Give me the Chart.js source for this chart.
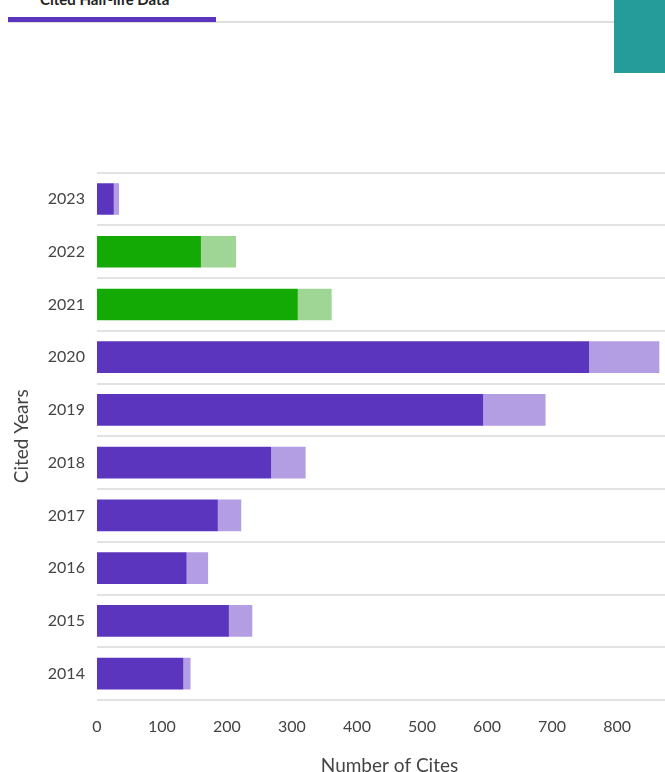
<!DOCTYPE html>
<html>
<head>
<meta charset="utf-8">
<script src="https://cdn.jsdelivr.net/npm/chart.js@4.4.0/dist/chart.umd.min.js"></script>
<style>
  html, body { margin: 0; padding: 0; background: #fff; overflow: hidden; width: 665px; height: 772px; }
  .tab-title { position: absolute; left: 40px; top: -10px; font: bold 15px Lato, sans-serif; color: #222; }
  .tab-line { position: absolute; left: 8px; top: 21px; width: 606px; height: 2px; background: #dedede; }
  .tab-active { position: absolute; left: 8px; top: 17px; width: 208px; height: 5px; background: #5c35be; }
  .teal { position: absolute; left: 614px; top: 0; width: 51px; height: 73px; background: #259b9a; }
  .chart-box { position: absolute; left: 0; top: 151px; width: 705px; height: 634px; }
</style>
</head>
<body>
<div class="tab-title">Cited Half-life Data</div>
<div class="tab-line"></div>
<div class="tab-active"></div>
<div class="teal"></div>
<div class="chart-box"><canvas id="citesChart"></canvas></div>
<script>
// Năm được trích dẫn (trục dọc)
const years = ['2023', '2022', '2021', '2020', '2019', '2018', '2017', '2016', '2015', '2014'];
// Phần đậm của mỗi thanh
const mainCites = [26, 160, 309, 757, 594, 268, 186, 138, 203, 133];
// Phần nhạt nối tiếp phía sau
const restCites = [8, 54, 52, 108, 96, 53, 36, 33, 36, 11];
// Các năm tô màu xanh lá
const greenYears = ['2022', '2021'];
const xTicks = [0, 100, 200, 300, 400, 500, 600, 700, 800, 900];

const mainColors = years.map(y => greenYears.includes(y) ? '#14aa06' : '#5c35be');
const restColors = years.map(y => greenYears.includes(y) ? '#9fd595' : '#b39de3');

const fontFamily = 'Lato, "Open Sans", sans-serif';

new Chart(document.getElementById('citesChart'), {
    type: 'bar',
    data: {
        labels: years,
        datasets: [{
            label: 'Cites',
            data: mainCites,
            backgroundColor: mainColors,
            barPercentage: 0.6,
            categoryPercentage: 1
        }, {
            label: 'Other',
            data: restCites,
            backgroundColor: restColors,
            barPercentage: 0.6,
            categoryPercentage: 1
        }]
    },
    options: {
        indexAxis: 'y',
        responsive: true,
        maintainAspectRatio: false,
        animation: false,
        layout: { padding: { top: 5, right: 0, bottom: 4, left: 6 } },
        plugins: {
            legend: { display: false },
            tooltip: { enabled: false }
        },
        scales: {
            x: {
                stacked: true,
                min: 0,
                max: 900,
                afterBuildTicks: axis => { axis.ticks = xTicks.map(v => ({ value: v })); },
                grid: { display: false },
                border: { display: false },
                ticks: { color: '#444', font: { family: fontFamily, size: 16 }, padding: 9 },
                title: {
                    display: true,
                    text: 'Number of Cites',
                    color: '#444',
                    font: { family: fontFamily, size: 19 },
                    padding: { top: 9 }
                }
            },
            y: {
                stacked: true,
                grid: { color: '#e2e2e2', lineWidth: 2, drawTicks: false },
                border: { display: false },
                ticks: { color: '#444', font: { family: fontFamily, size: 16 }, padding: 12 },
                title: {
                    display: true,
                    text: 'Cited Years',
                    color: '#444',
                    font: { family: fontFamily, size: 19 },
                    padding: { bottom: 3 }
                }
            }
        }
    }
});
</script>
</body>
</html>
